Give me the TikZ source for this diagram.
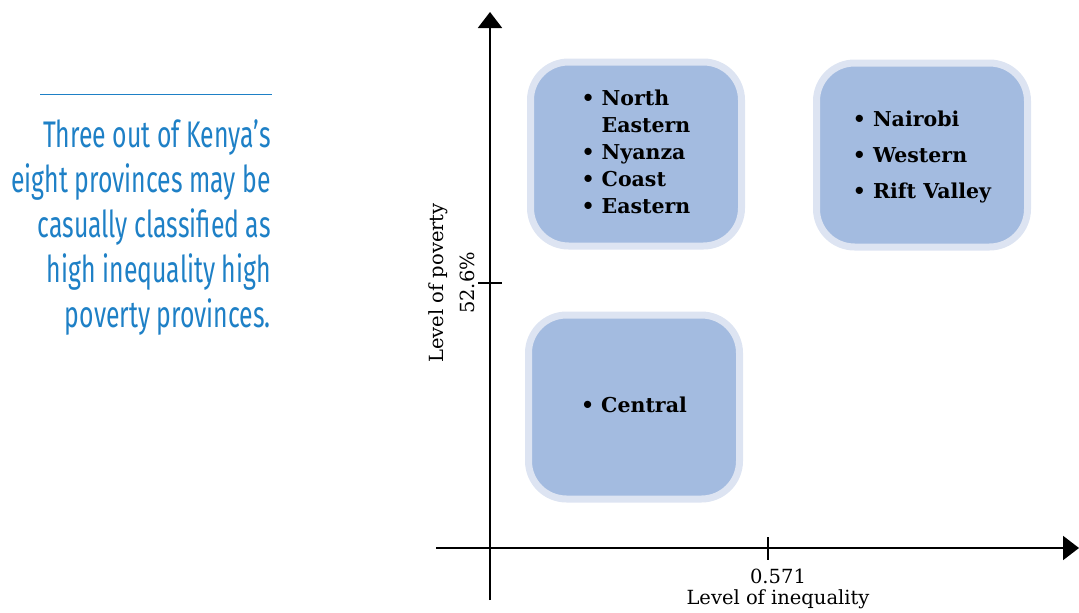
\documentclass[tikz,border=0pt]{standalone}
\usepackage{fontspec}
\usetikzlibrary{arrows.meta}
\setmainfont{DejaVu Serif}
\newfontfamily\notefont[FakeStretch=0.67]{Fira Sans}
\definecolor{noteblue}{RGB}{30,128,198}
\definecolor{boxfill}{RGB}{163,187,224}
\definecolor{boxrim}{RGB}{221,228,242}
\tikzset{
  provbox/.style={draw=boxrim, fill=boxfill, line width=7pt, rounded corners=38pt,
    minimum width=211pt, minimum height=184pt, inner sep=0pt, align=left,
    font=\fontsize{20.5}{27}\selectfont\bfseries},
  axis/.style={line width=2pt, -{Triangle[length=16pt,width=24pt]}},
  tick/.style={line width=2pt},
  axislabel/.style={font=\fontsize{19.5}{22}\selectfont, inner sep=0pt}
}
\begin{document}
\begin{tikzpicture}[x=1pt,y=-1pt]
            \useasboundingbox (0,0) rectangle (1079,613);
            % side note
            \draw[noteblue, line width=0.8pt] (40,94) -- (272,94);
            \node[anchor=north east, align=right, inner sep=0pt, text=noteblue,
                  font=\notefont\fontsize{37}{45}\selectfont] (note) at (271,119)
                  {Three out of Kenya’s\\eight provinces may be\\casually classified as\\high inequality high\\poverty provinces.};
            % axes
            \coordinate (origin) at (490,548);
            \coordinate (ytop) at (490,12);
            \coordinate (ybot) at (490,600);
            \coordinate (xleft) at (436,548);
            \coordinate (xright) at (1079,548);
            \draw[tick] (ybot) -- (origin);
            \draw[axis] (origin) -- (ytop);
            \draw[tick] (xleft) -- (origin);
            \draw[axis] (origin) -- (xright);
            \coordinate (xt1) at (768,537);
            \coordinate (xt2) at (768,560);
            \coordinate (yt1) at (478,283);
            \coordinate (yt2) at (502,283);
            \draw[tick] (xt1) -- (xt2);
            \draw[tick] (yt1) -- (yt2);
            \node[axislabel] (xval) at (778,576) {0.571};
            \node[axislabel] (xname) at (778,599) {Level of inequality};
            \node[axislabel, rotate=90] (yval) at (467,283) {52.6\%};
            \node[axislabel, rotate=90] (yname) at (438,283) {Level of poverty};
            % provinces
            \node[provbox] (highhigh) at (636,154) {\begin{tabular}{@{}l@{\hspace{7pt}}l@{}}
                \textbullet & North\\ & Eastern\\ \textbullet & Nyanza\\ \textbullet & Coast\\ \textbullet & Eastern\end{tabular}};
            \node[provbox] (highlow) at (922,155) {\def\arraystretch{1.33}\begin{tabular}{@{}l@{\hspace{7pt}}l@{}}
                \textbullet & Nairobi\\ \textbullet & Western\\ \textbullet & Rift Valley\end{tabular}};
            \node[provbox] (lowlow) at (634,407) {\begin{tabular}{@{}l@{\hspace{7pt}}l@{}}
                \textbullet & Central\end{tabular}};
\end{tikzpicture}
\end{document}
